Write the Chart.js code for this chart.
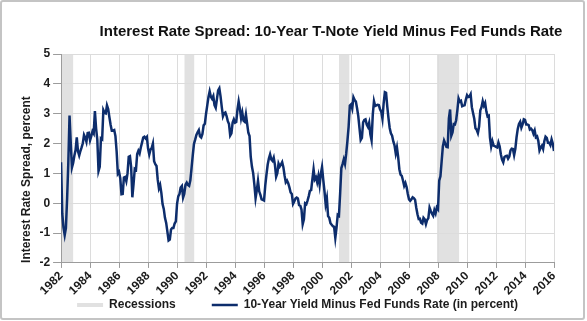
<!DOCTYPE html>
<html>
<head>
<meta charset="utf-8">
<title>Interest Rate Spread</title>
<script src="https://cdn.jsdelivr.net/npm/chart.js@4.4.1/dist/chart.umd.min.js"></script>
<style>
  html, body { margin: 0; padding: 0; background: #fff; }
  #wrap { position: relative; width: 587px; height: 321px; }
  #frame {
    position: absolute; left: 0; top: 0;
    width: 581px; height: 316px;
    border: 2px solid #c4c4c4; border-radius: 3px;
    pointer-events: none;
  }
  canvas { position: absolute; left: 0; top: 0; }
</style>
</head>
<body>
<div id="wrap">
  <canvas id="chart" width="587" height="321"></canvas>
  <div id="frame"></div>
</div>
<script>
// monthly spread (10y yield - fed funds), Jan 1982 .. Jan 2016
const startYear = 1982;
const spread = [
  1.37, -0.35, -0.82, -1.07, -0.83, 0.15, 1.36, 2.94, 2.03, 1.20, 1.35, 1.59,
  1.78, 2.21, 1.74, 1.60, 1.75, 1.87, 2.01, 2.29, 2.20, 2.06, 2.35, 2.36,
  2.11, 2.25, 2.41, 2.34, 3.09, 2.50, 2.13, 1.08, 1.22, 2.17, 2.14, 3.12,
  3.03, 3.01, 3.28, 3.16, 2.88, 2.63, 2.43, 2.43, 2.45, 2.25, 1.73, 0.99,
  1.05, 0.84, 0.30, 0.31, 0.86, 0.88, 0.74, 1.00, 1.56, 1.58, 1.21, 0.20,
  0.65, 1.15, 1.12, 1.65, 1.76, 1.67, 1.87, 2.03, 2.20, 2.23, 2.17, 2.22,
  1.84, 1.63, 1.79, 1.85, 2.00, 1.41, 1.31, 1.25, 0.79, 0.50, 0.61, 0.35,
  -0.03, -0.19, -0.49, -0.66, -0.95, -1.25, -1.22, -0.88, -0.83, -0.83, -0.68, -0.61,
  -0.02, 0.23, 0.31, 0.53, 0.58, 0.19, 0.32, 0.62, 0.69, 0.61, 0.58, 0.77,
  1.18, 1.60, 1.99, 2.13, 2.29, 2.38, 2.45, 2.24, 2.20, 2.32, 2.61, 2.66,
  3.00, 3.28, 3.56, 3.75, 3.57, 3.50, 3.59, 3.29, 3.20, 3.49, 3.78, 3.85,
  3.58, 3.23, 2.91, 3.01, 3.04, 2.92, 2.75, 2.65, 2.27, 2.34, 2.70, 2.81,
  2.70, 2.72, 3.14, 3.41, 3.17, 2.85, 3.04, 2.77, 2.73, 2.98, 2.67, 2.36,
  2.25, 1.55, 1.22, 1.01, 0.62, 0.17, 0.43, 0.75, 0.40, 0.28, 0.13, 0.11,
  0.09, 0.59, 0.96, 1.29, 1.50, 1.64, 1.47, 1.42, 1.53, 1.29, 0.89, 1.01,
  1.33, 1.23, 1.30, 1.38, 1.21, 0.93, 0.70, 0.76, 0.67, 0.53, 0.36, 0.31,
  -0.02, 0.06, 0.16, 0.19, 0.16, -0.06, -0.08, -0.21, -0.70, -0.54, 0.00, -0.03,
  0.09, 0.24, 0.42, 0.44, 0.80, 1.14, 0.80, 0.87, 0.70, 0.91, 0.61, 0.98,
  1.21, 0.79, 0.41, -0.03, 0.17, -0.43, -0.49, -0.67, -0.72, -0.77, -0.79, -1.16,
  -0.82, -0.39, -0.42, 0.34, 1.18, 1.31, 1.47, 1.32, 1.66, 2.08, 2.56, 3.27,
  3.31, 3.17, 3.55, 3.46, 3.41, 3.18, 2.92, 2.52, 2.12, 2.19, 2.71, 2.79,
  2.81, 2.64, 2.56, 2.70, 2.31, 2.11, 2.97, 3.42, 3.26, 3.28, 3.30, 3.29,
  3.15, 3.07, 2.83, 3.35, 3.72, 3.70, 3.24, 2.85, 2.52, 2.34, 2.26, 2.07,
  1.94, 1.67, 1.87, 1.55, 1.14, 0.96, 0.92, 0.76, 0.58, 0.68, 0.54, 0.31,
  0.13, 0.08, 0.13, 0.20, 0.17, 0.12, -0.15, -0.37, -0.53, -0.52, -0.65, -0.68,
  -0.49, -0.54, -0.70, -0.56, -0.50, -0.15, -0.26, -0.35, -0.42, -0.23, -0.34, -0.14,
  -0.20, 0.76, 0.90, 1.40, 1.90, 2.10, 2.00, 1.89, 1.88, 2.84, 3.14, 2.26,
  2.37, 2.65, 2.64, 2.78, 3.11, 3.51, 3.40, 3.43, 3.25, 3.27, 3.28, 3.47,
  3.62, 3.56, 3.57, 3.65, 3.22, 3.02, 2.83, 2.51, 2.46, 2.35, 2.57, 3.11,
  3.22, 3.42, 3.27, 3.36, 3.08, 2.91, 2.93, 2.20, 1.90, 2.08, 1.93, 1.91,
  1.89, 1.87, 2.04, 1.91, 1.64, 1.46, 1.37, 1.55, 1.58, 1.59, 1.49, 1.56,
  1.77, 1.83, 1.82, 1.61, 1.82, 2.21, 2.49, 2.66, 2.73, 2.53, 2.64, 2.81,
  2.79, 2.64, 2.64, 2.62, 2.47, 2.50, 2.45, 2.33, 2.44, 2.21, 2.24, 2.09,
  1.77, 1.87, 1.93, 1.82, 2.08, 2.23, 2.19, 2.03, 2.03, 1.95, 2.14, 2.00,
  1.75
];

// NBER recessions as decimal years
const recessionStart = [1982.0, 1990.5, 2001.17, 2007.92];
const recessionEnd   = [1982.85, 1991.2, 2001.9, 2009.47];

const yMin = -2;
const yMax = 5;

const lineColor = '#0d2d6c';
const shadeColor = '#e1e1e1';
const gridColor = '#dcdcdc';
const axisColor = '#9c9c9c';
const textColor = '#1c1c1c';

Chart.defaults.font.family = '"Liberation Sans", Arial, Helvetica, sans-serif';
Chart.defaults.color = textColor;

const spreadPoints = spread.map((v, i) => ({ x: startYear + i / 12, y: v }));

// each recession becomes a filled block from the top of the axis down, split by gaps
const shadePoints = [];
recessionStart.forEach((s, i) => {
  shadePoints.push({ x: s, y: yMax }, { x: recessionEnd[i], y: yMax }, { x: recessionEnd[i], y: null });
});

// shift title and legend into place once the layout is known
const placeBlocks = {
  id: 'placeBlocks',
  afterLayout(chart) {
    const t = chart.titleBlock;
    t.left += 47;
    t.right += 47;
    const lg = chart.legend;
    const pad = lg.options.labels.padding;
    lg.left = chart.chartArea.left + 16 - pad;
    lg.right = chart.width;
    lg.top = chart.height - 22 - pad;
  }
};

new Chart(document.getElementById('chart'), {
  type: 'line',
  data: {
    datasets: [
      {
        label: 'Recessions',
        data: shadePoints,
        borderWidth: 0,
        backgroundColor: shadeColor,
        fill: 'start',
        pointRadius: 0,
        pointStyle: 'rect',
        spanGaps: false
      },
      {
        label: '10-Year Yield Minus Fed Funds Rate (in percent)',
        data: spreadPoints,
        borderColor: lineColor,
        borderWidth: 2.5,
        pointRadius: 0,
        pointStyle: 'line',
        fill: false,
        tension: 0
      }
    ]
  },
  options: {
    responsive: false,
    animation: false,
    layout: { padding: { left: 14, right: 33, top: 0, bottom: 0 } },
    scales: {
      x: {
        type: 'linear',
        min: startYear,
        max: 2016,
        ticks: {
          stepSize: 2,
          autoSkip: false,
          minRotation: 45,
          maxRotation: 45,
          padding: 1,
          font: { size: 12, weight: 'bold' },
          callback: (v) => String(v)
        },
        grid: { color: gridColor, tickColor: axisColor, tickLength: 5 },
        border: { color: axisColor }
      },
      y: {
        min: yMin,
        max: yMax,
        ticks: {
          stepSize: 1,
          padding: 3,
          font: { size: 12, weight: 'bold' }
        },
        grid: { color: gridColor, tickColor: axisColor, tickLength: 8 },
        border: { color: axisColor },
        title: {
          display: true,
          text: 'Interest Rate Spread, percent',
          align: 'start',
          padding: { top: 5, bottom: 3 },
          font: { size: 12, weight: 'bold' }
        }
      }
    },
    plugins: {
      filler: { drawTime: 'beforeDraw' },
      tooltip: { enabled: false },
      title: {
        display: true,
        text: 'Interest Rate Spread: 10-Year T-Note Yield Minus Fed Funds Rate',
        color: '#111',
        font: { size: 15, weight: 'bold' },
        padding: { top: 23, bottom: 13 }
      },
      legend: {
        position: 'bottom',
        align: 'start',
        maxHeight: 22,
        labels: {
          usePointStyle: true,
          pointStyleWidth: 26,
          boxHeight: 4,
          padding: 36,
          font: { size: 12, weight: 'bold' }
        }
      }
    }
  },
  plugins: [placeBlocks]
});
</script>
</body>
</html>
